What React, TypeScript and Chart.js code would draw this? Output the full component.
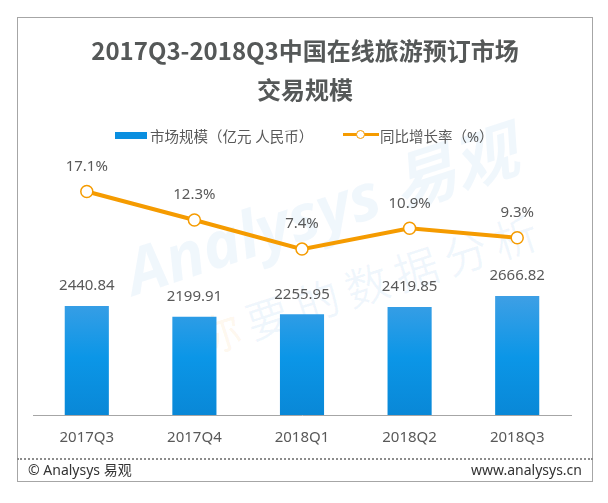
import { useEffect, useRef } from "react"
import { Chart, registerables, type ChartConfiguration, type Plugin } from "chart.js"

Chart.register(...registerables)

// data
const quarters = ["2017Q3", "2017Q4", "2018Q1", "2018Q2", "2018Q3"]
const marketSize = [2440.84, 2199.91, 2255.95, 2419.85, 2666.82]
const growthRate = [17.1, 12.3, 7.4, 10.9, 9.3]

const FONT = '"Noto Sans", "Noto Sans CJK SC", sans-serif'
const ORANGE = "#f59b00"
const TEXT = "#595959"

// value labels above bars and points
const valueLabels: Plugin<"bar"> = {
  id: "valueLabels",
  afterDatasetsDraw(chart) {
    const ctx = chart.ctx
    ctx.save()
    ctx.font = `15px ${FONT}`
    ctx.fillStyle = TEXT
    ctx.textAlign = "center"
    ctx.textBaseline = "middle"
    chart.data.datasets.forEach((ds, i) => {
      const meta = chart.getDatasetMeta(i)
      meta.data.forEach((el, j) => {
        const v = ds.data[j] as number
        if (meta.type === "bar") {
          ctx.fillText(v.toFixed(2), el.x, el.y - 20)
        } else {
          ctx.fillText(v.toFixed(1) + "%", el.x, el.y - 25)
        }
      })
    })
    ctx.restore()
  },
}

export default function App() {
  const chartRef = useRef<HTMLCanvasElement>(null)
  const chartInstance = useRef<Chart | null>(null)

  useEffect(() => {
    if (!chartRef.current) return
    if (chartInstance.current) chartInstance.current.destroy()
    const ctx = chartRef.current.getContext("2d")
    if (!ctx) return

    const grad = ctx.createLinearGradient(0, 297, 0, 418)
    grad.addColorStop(0, "#3d9fe5")
    grad.addColorStop(0.5, "#0b96e7")
    grad.addColorStop(1, "#0987d6")

    const config: ChartConfiguration<"bar" | "line"> = {
      type: "bar",
      data: {
        labels: quarters,
        datasets: [
          {
            type: "line",
            label: "同比增长率（%）",
            data: growthRate,
            yAxisID: "y1",
            borderColor: ORANGE,
            borderWidth: 4,
            pointRadius: 6,
            pointBackgroundColor: "#ffffff",
            pointBorderColor: ORANGE,
            pointBorderWidth: 1.5,
            tension: 0,
            order: 0,
          },
          {
            type: "bar",
            label: "市场规模（亿元 人民币）",
            data: marketSize,
            yAxisID: "y",
            backgroundColor: grad,
            barPercentage: 0.41,
            categoryPercentage: 1,
            order: 1,
          },
        ],
      },
      options: {
        responsive: false,
        animation: false,
        layout: { padding: { left: 33, right: 37, top: 174, bottom: 42 } },
        plugins: {
          legend: { display: false },
          tooltip: { enabled: false },
        },
        scales: {
          x: {
            grid: { display: false, drawTicks: false },
            border: { display: true, color: "#a6a6a6", width: 1 },
            ticks: { color: TEXT, font: { family: FONT, size: 15 }, padding: 14 },
          },
          y: { display: false, min: 0, max: 5400 },
          y1: { display: false, min: -20.55, max: 20.05, position: "right" },
        },
      },
      plugins: [valueLabels as Plugin<"bar" | "line">],
    }

    chartInstance.current = new Chart(ctx, config)
    return () => {
      if (chartInstance.current) {
        chartInstance.current.destroy()
        chartInstance.current = null
      }
    }
  }, [])

  const abs = (l: number, t: number): React.CSSProperties => ({ position: "absolute", left: l, top: t })

  return (
    <div style={{ position: "absolute", left: 0, top: 0, width: 608, height: 503, background: "#fff", fontFamily: FONT, overflow: "hidden" }}>
      {/* frame */}
      <div style={{ ...abs(17, 17), width: 576, height: 465, border: "1px solid #a6a6a6", boxSizing: "border-box" }} />

      {/* watermark */}
      <div style={{ ...abs(40, 160), width: 560, textAlign: "center", fontSize: 64, fontWeight: 700, fontStyle: "italic", color: "rgba(0,120,210,0.06)", transform: "rotate(-18deg)", whiteSpace: "nowrap" }}>
        Analysys 易观
      </div>
      <div style={{ ...abs(130, 250), width: 480, textAlign: "center", fontSize: 44, color: "rgba(0,120,210,0.06)", transform: "rotate(-18deg)", whiteSpace: "nowrap", letterSpacing: 8 }}>
        <span style={{ color: "rgba(245,155,0,0.08)" }}>你</span>要的数据分析
      </div>

      <canvas ref={chartRef} width={608} height={503} style={{ ...abs(0, 0), width: 608, height: 503 }} />

      {/* title */}
      <div style={{ ...abs(17, 35), width: 576, height: 30, lineHeight: "30px", textAlign: "center", fontSize: 24, fontWeight: 700, color: "#555858", fontFamily: '"Noto Sans CJK SC", sans-serif' }}>
        2017Q3-2018Q3中国在线旅游预订市场
      </div>
      <div style={{ ...abs(17, 74), width: 576, height: 30, lineHeight: "30px", textAlign: "center", fontSize: 24, fontWeight: 700, color: "#555858", fontFamily: '"Noto Sans CJK SC", sans-serif' }}>
        交易规模
      </div>

      {/* legend */}
      <div style={{ ...abs(115, 132), width: 32, height: 7, background: "#0a8fe0" }} />
      <div style={{ ...abs(150, 126), height: 20, lineHeight: "20px", fontSize: 14.5, color: TEXT, whiteSpace: "nowrap" }}>
        市场规模（亿元 人民币）
      </div>
      <div style={{ ...abs(343, 133), width: 36, height: 3, background: ORANGE }} />
      <div style={{ ...abs(356, 130), width: 9, height: 9, borderRadius: "50%", border: `1.5px solid ${ORANGE}`, background: "#fff", boxSizing: "border-box" }} />
      <div style={{ ...abs(380, 126), height: 20, lineHeight: "20px", fontSize: 14.5, color: TEXT, whiteSpace: "nowrap" }}>
        同比增长率（%）
      </div>

      {/* footer */}
      <div style={{ ...abs(17, 458), width: 576, height: 0, borderTop: "2px dotted #8c8c8c" }} />
      <div style={{ ...abs(28, 460), height: 20, lineHeight: "20px", fontSize: 14, color: "#333", whiteSpace: "nowrap" }}>
        © Analysys 易观
      </div>
      <div style={{ position: "absolute", right: 608 - 582, top: 460, height: 20, lineHeight: "20px", fontSize: 14, color: "#333", whiteSpace: "nowrap" }}>
        www.analysys.cn
      </div>
    </div>
  )
}
